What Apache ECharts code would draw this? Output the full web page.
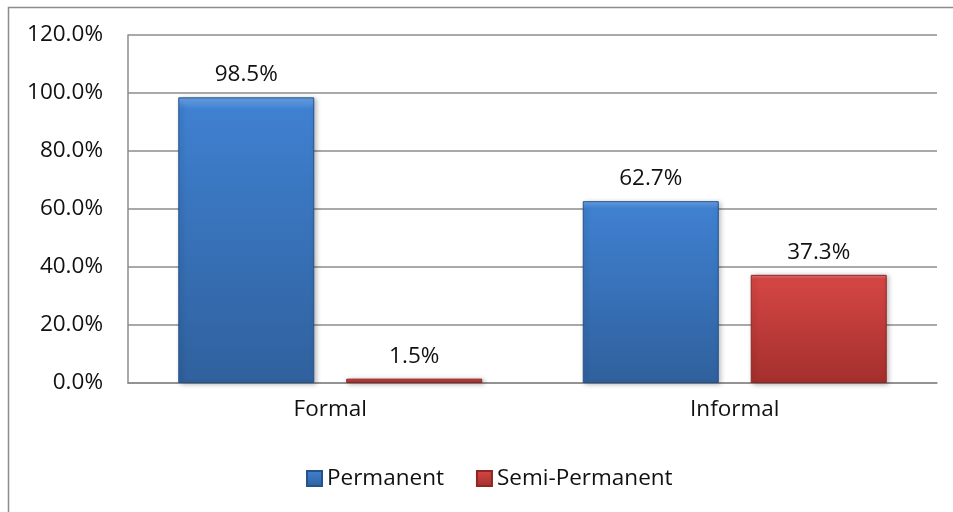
<!DOCTYPE html>
<html>
<head>
<meta charset="utf-8">
<script src="https://cdn.jsdelivr.net/npm/echarts@6/dist/echarts.min.js"></script>
<style>html,body{margin:0;padding:0;background:#fff;}#c{width:953px;height:512px;}</style>
</head>
<body>
<div id="c"></div>
<script>
var categories = ['Formal', 'Informal'];
var seriesNames = ['Permanent', 'Semi-Permanent'];
var permanent = [98.5, 62.7];
var semiPermanent = [1.5, 37.3];
var yTicks = [0, 20, 40, 60, 80, 100, 120];

var FONT = '"Open Sans", sans-serif';
var FS = 22.5;
var chart = echarts.init(document.getElementById('c'));

function grad(top, mid, bot) {
  return new echarts.graphic.LinearGradient(0, 0, 0, 1, [
    {offset: 0, color: top}, {offset: 0.04, color: mid}, {offset: 0.96, color: bot}, {offset: 1, color: bot}
  ]);
}
var blueStyle = {
  color: grad('#6CA5E8', '#3F80D0', '#30629F'),
  borderColor: '#24528C', borderWidth: 1,
  shadowColor: 'rgba(0,0,0,0.3)', shadowBlur: 5, shadowOffsetX: 2, shadowOffsetY: 1
};
var redStyle = {
  color: grad('#F07270', '#D44644', '#A6302E'),
  borderColor: '#8E2624', borderWidth: 1,
  shadowColor: 'rgba(0,0,0,0.3)', shadowBlur: 5, shadowOffsetX: 2, shadowOffsetY: 1
};
var labelCfg = {
  show: true, position: 'top', distance: 11,
  fontFamily: FONT, fontSize: FS, color: '#111',
  formatter: function (p) { return p.value.toFixed(1) + '%'; }
};

chart.setOption({
  animation: false,
  backgroundColor: '#fff',
  graphic: [{
    type: 'rect', left: 6, top: 5,
    shape: {x: 0, y: 0, width: 960, height: 520},
    style: {fill: 'none', stroke: '#8c8c8c', lineWidth: 1.5},
    silent: true, z: -1
  }],
  grid: {left: 128, right: 16, top: 35, bottom: 129, containLabel: false},
  legend: {
    left: 301, top: 462,
    itemWidth: 15, itemHeight: 15, itemGap: 32,
    icon: 'rect',
    textStyle: {fontFamily: FONT, fontSize: FS, color: '#111'},
    data: seriesNames
  },
  xAxis: {
    type: 'category', data: categories,
    axisLine: {show: true, lineStyle: {color: '#8c8c8c', width: 1.5}},
    axisTick: {show: false},
    axisLabel: {fontFamily: FONT, fontSize: FS, color: '#111', margin: 15}
  },
  yAxis: {
    type: 'value', min: yTicks[0], max: yTicks[yTicks.length - 1], interval: 20,
    axisLine: {show: true, lineStyle: {color: '#8c8c8c', width: 1.5}},
    axisTick: {show: false},
    splitLine: {show: true, lineStyle: {color: '#8c8c8c', width: 1.5}},
    axisLabel: {
      fontFamily: FONT, fontSize: FS, color: '#111', margin: 25,
      formatter: function (v) { return v.toFixed(1) + '%'; }
    }
  },
  series: [
    {name: seriesNames[0], type: 'bar', data: permanent, barWidth: 136, barGap: '23.5%',
     itemStyle: blueStyle, label: labelCfg},
    {name: seriesNames[1], type: 'bar', data: semiPermanent, barWidth: 136,
     itemStyle: redStyle, label: labelCfg}
  ]
});
</script>
</body>
</html>
